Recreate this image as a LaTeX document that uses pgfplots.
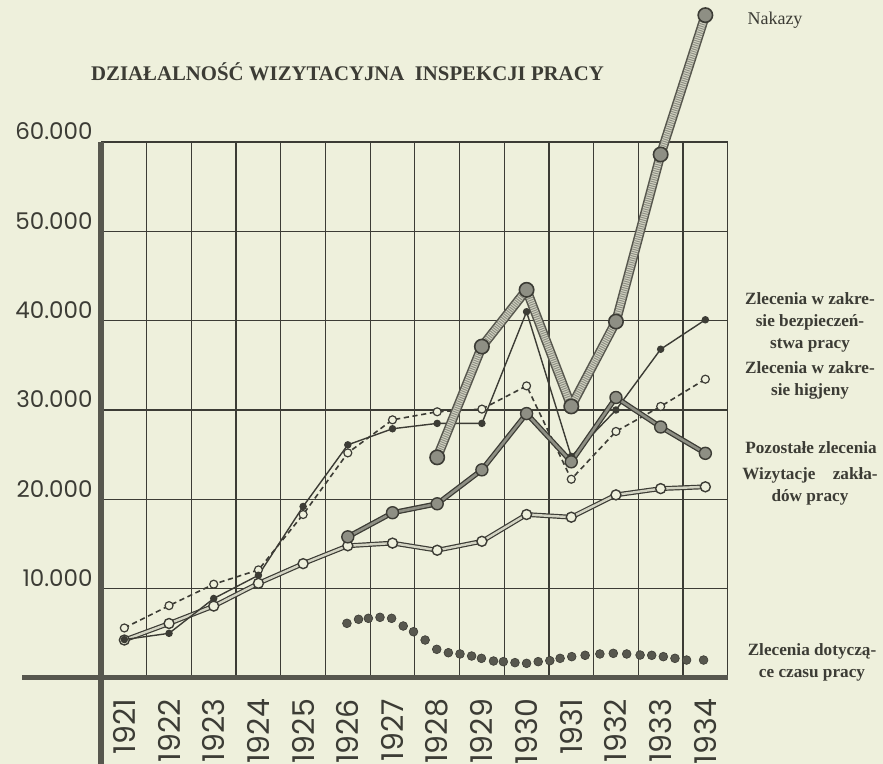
\documentclass[border=0pt]{standalone}
\usepackage{pgfplots}
\usepackage{pgfplotstable}
\pgfplotsset{compat=1.18}
\usepackage{fontspec}
\setmainfont{Liberation Serif}
\newfontfamily\lett{Poppins}
\definecolor{bg}{HTML}{EEF0DC}
\definecolor{ink}{HTML}{3C3C35}
\definecolor{inkl}{HTML}{57574E}
\definecolor{hatch}{HTML}{D3D4C3}
\definecolor{mid}{HTML}{8E8F84}

\pgfplotstableread{
year val
1928 24700
1929 37100
1930 43450
1931 30400
1932 39900
1933 58600
1934 74200
}\nakazy

\pgfplotstableread{
year val
1921 4300
1922 5000
1923 8900
1924 11500
1925 19200
1926 26100
1927 27900
1928 28500
1929 28500
1930 41000
1931 24800
1932 30000
1933 36800
1934 40100
}\bezp

\pgfplotstableread{
year val
1921 5600
1922 8100
1923 10500
1924 12100
1925 18300
1926 25200
1927 28900
1928 29800
1929 30100
1930 32700
1931 22250
1932 27600
1933 30400
1934 33450
}\higiena

\pgfplotstableread{
year val
1921 4250
1922 6100
1923 8050
1924 10600
1925 12800
1926 14800
1927 15100
1928 14300
1929 15300
1930 18300
1931 18000
1932 20500
1933 21200
1934 21400
}\wizyt

\pgfplotstableread{
year val
1926 15800
1927 18500
1928 19500
1929 23300
1930 29600
1931 24200
1932 31400
1933 28100
1934 25150
}\pozost

\pgfplotstableread{
year val
1925.98 6120
1926.24 6570
1926.46 6680
1926.72 6790
1926.98 6680
1927.24 5820
1927.47 5180
1927.73 4250
1927.99 3210
1928.25 2830
1928.51 2690
1928.77 2460
1928.99 2200
1929.26 1900
1929.48 1830
1929.74 1720
1930.00 1640
1930.26 1830
1930.52 1940
1930.75 2200
1931.01 2390
1931.31 2540
1931.64 2690
1931.94 2760
1932.24 2690
1932.54 2570
1932.80 2540
1933.06 2390
1933.32 2200
1933.58 2010
1933.96 2010
}\czas

\begin{document}
\begin{tikzpicture}
\useasboundingbox (0,0) rectangle (441.5pt,382pt);
\fill[bg] (0,0) rectangle (441.5pt,382pt);
\begin{axis}[
  at={(51pt,43pt)}, anchor=south west,
  scale only axis, width=312.85pt, height=268pt,
  xmin=1920.5, xmax=1934.5, ymin=0, ymax=60000,
  clip=false,
  axis line style={ink, line width=0.6pt},
  xtick={1921,1922,1923,1924,1925,1926,1927,1928,1929,1930,1931,1932,1933,1934},
  xticklabels={1921,1922,1923,1924,1925,1926,1927,1928,1929,1930,1931,1932,1933,1934},
  xticklabel style={rotate=90, anchor=east, xshift=-7pt, font=\lett\fontsize{15}{15}\selectfont, text=ink},
  major tick length=0pt,
  extra x ticks={1921.5,1922.5,1923.5,1924.5,1925.5,1926.5,1927.5,1928.5,1929.5,1930.5,1931.5,1932.5,1933.5},
  extra x tick labels={},
  extra x tick style={grid=major},
  ytick={10000,20000,30000,40000,50000,60000},
  yticklabels={10.000,20.000,30.000,40.000,50.000,60.000},
  ymajorgrids,
  major grid style={ink, line width=0.6pt},
  yticklabel style={anchor=base east, xshift=-1.2pt, yshift=1pt, font=\lett\fontsize{11.5}{11.5}\selectfont, text=ink},
  scaled y ticks=false,
]
% Zlecenia dotyczace czasu pracy
\addplot[only marks, mark=*, mark size=2.2pt, mark options={fill=inkl, draw=ink, line width=0.3pt}] table {\czas};
% Wizytacje
\addplot[ink, line width=0.6pt, double=hatch, double distance=1.2pt, line join=round] table {\wizyt};
\addplot[only marks, mark=*, mark size=2.5pt, mark options={fill=bg, draw=ink, line width=0.7pt}] table {\wizyt};
% Higiena
\addplot[ink, line width=0.8pt, dash pattern=on 2.6pt off 1.8pt, mark=*, mark size=2pt, mark options={solid, fill=bg, draw=ink, line width=0.6pt}] table {\higiena};
% Bezpieczenstwo
\addplot[ink, line width=0.7pt, mark=*, mark size=1.5pt, mark options={fill=ink}] table {\bezp};
% Pozostale
\addplot[ink, line width=2.6pt, line join=round] table {\pozost};
\addplot[mid, line width=1.3pt, line join=round] table {\pozost};
\addplot[only marks, mark=*, mark size=3pt, mark options={fill=mid, draw=ink, line width=0.7pt}] table {\pozost};
% Nakazy
\addplot[inkl, line width=4.8pt, line join=round] table {\nakazy};
\addplot[hatch, line width=3.2pt, line join=round] table {\nakazy};
\addplot[mid, line width=3.2pt, dash pattern=on 0.5pt off 0.6pt] table {\nakazy};
\addplot[only marks, mark=*, mark size=3.6pt, mark options={fill=mid, draw=ink, line width=0.8pt}] table {\nakazy};
\end{axis}
\draw[inkl, line width=3pt] (50.25pt,0) -- (50.25pt,311pt);
\draw[inkl, line width=2.5pt] (11pt,43pt) -- (364pt,43pt);
% title
\node[text=ink, font=\bfseries\fontsize{10.4}{12}\selectfont] at (173.75pt,346pt) {DZIAŁALNOŚĆ WIZYTACYJNA\ \ INSPEKCJI PRACY};
% labels
\node[text=ink, font=\fontsize{9}{11}\selectfont] at (387.5pt,372pt) {Nakazy};
\begin{scope}[every node/.style={text=ink, align=center, font=\bfseries\fontsize{8.6}{11}\selectfont}]
\node at (405pt,221pt) {Zlecenia w zakre-\\sie bezpieczeń-\\stwa pracy};
\node at (405pt,192pt) {Zlecenia w zakre-\\sie higjeny};
\node at (405.5pt,158pt) {Pozostałe zlecenia};
\node at (405pt,139pt) {Wizytacje\quad zakła-\\dów pracy};
\node at (406pt,51pt) {Zlecenia dotyczą-\\ce czasu pracy};
\end{scope}
\end{tikzpicture}
\end{document}
